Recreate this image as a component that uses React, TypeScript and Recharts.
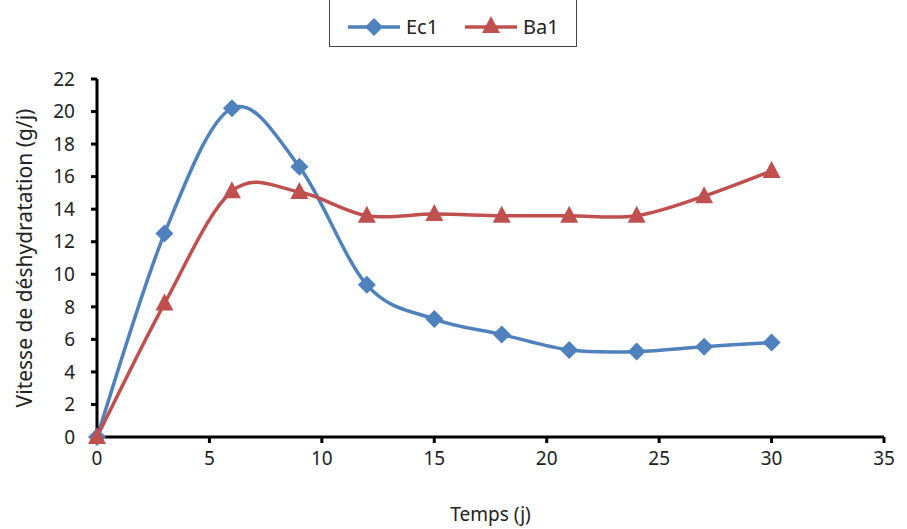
import React from 'react';
import { LineChart, Line, XAxis, YAxis, Legend } from 'recharts';

const days = [0, 3, 6, 9, 12, 15, 18, 21, 24, 27, 30];
const ec1 = [0, 12.5, 20.2, 16.6, 9.35, 7.25, 6.3, 5.35, 5.25, 5.55, 5.8];
const ba1 = [0, 8.2, 15.1, 15.05, 13.6, 13.7, 13.6, 13.6, 13.6, 14.8, 16.35];
const xTicks = [0, 5, 10, 15, 20, 25, 30, 35];
const yTicks = [0, 2, 4, 6, 8, 10, 12, 14, 16, 18, 20, 22];
const seriesNames = ['Ec1', 'Ba1'];

const data = days.map((d, i) => ({ t: d, Ec1: ec1[i], Ba1: ba1[i] }));

const BLUE = '#4F81BD';
const RED = '#C0504D';
const FONT = '"Noto Sans", "Open Sans", sans-serif';

function excelSmooth(context: any) {
  let pts: number[][] = [];
  return {
    areaStart() {},
    areaEnd() {},
    lineStart() {
      pts = [];
    },
    point(x: number, y: number) {
      pts.push([+x, +y]);
    },
    lineEnd() {
      const n = pts.length;
      if (!n) return;
      context.moveTo(pts[0][0], pts[0][1]);
      for (let i = 0; i < n - 1; i++) {
        const p0 = pts[Math.max(0, i - 1)];
        const p1 = pts[i];
        const p2 = pts[i + 1];
        const p3 = pts[Math.min(n - 1, i + 2)];
        context.bezierCurveTo(
          p1[0] + (p2[0] - p0[0]) / 6,
          p1[1] + (p2[1] - p0[1]) / 6,
          p2[0] - (p3[0] - p1[0]) / 6,
          p2[1] - (p3[1] - p1[1]) / 6,
          p2[0],
          p2[1]
        );
      }
    },
  };
}

const Diamond = (props: any) => {
  const { cx, cy } = props;
  if (cx == null || cy == null) return null;
  const r = 9;
  return <path d={`M${cx},${cy - r}L${cx + r},${cy}L${cx},${cy + r}L${cx - r},${cy}Z`} fill={BLUE} />;
};

const Triangle = (props: any) => {
  const { cx, cy } = props;
  if (cx == null || cy == null) return null;
  return <path d={`M${cx},${cy - 10}L${cx + 9},${cy + 7}L${cx - 9},${cy + 7}Z`} fill={RED} />;
};

const LegendContent = (props: any) => {
  const payload = props.payload || [];
  const ordered = seriesNames
    .map((n) => payload.find((p: any) => p.value === n))
    .filter(Boolean);
  return (
    <div
      style={{
        width: 248,
        height: 66,
        borderLeft: '1.5px solid #444',
        borderRight: '1.5px solid #444',
        borderBottom: '1.5px solid #444',
        boxSizing: 'border-box',
        position: 'relative',
      }}
    >
      <svg width={248} height={66} style={{ position: 'absolute', left: 0, top: 0 }}>
        {ordered.map((p: any, i: number) => {
          const x0 = i === 0 ? 18 : 135;
          const cy = 46;
          const color = p.color;
          return (
            <g key={p.value}>
              <line x1={x0} x2={x0 + 52} y1={cy} y2={cy} stroke={color} strokeWidth={3.5} />
              {p.value === 'Ec1' ? (
                <Diamond cx={x0 + 26} cy={cy} />
              ) : (
                <Triangle cx={x0 + 26} cy={cy - 1} />
              )}
              <text x={x0 + 58} y={cy + 7} fontFamily={FONT} fontSize={20} fill="#222">
                {p.value}
              </text>
            </g>
          );
        })}
      </svg>
    </div>
  );
};

export default function App() {
  return (
    <div style={{ position: 'absolute', left: 0, top: 0, width: 907, height: 529, background: '#fff' }}>
      <LineChart
        width={907}
        height={529}
        data={data}
        margin={{ top: 13, right: 23, bottom: 52, left: 57 }}
      >
        <XAxis
          dataKey="t"
          type="number"
          domain={[0, 35]}
          ticks={xTicks}
          interval={0}
          height={40}
          axisLine={{ stroke: '#000', strokeWidth: 3 }}
          tickLine={{ stroke: '#000', strokeWidth: 3 }}
          tickSize={6}
          tick={{ fill: '#222', fontSize: 19, fontFamily: FONT }}
          tickMargin={9}
          label={{
            value: 'Temps (j)',
            position: 'insideBottom',
            offset: -44,
            fill: '#222',
            fontSize: 19,
            fontFamily: FONT,
          }}
        />
        <YAxis
          type="number"
          domain={[0, 22]}
          ticks={yTicks}
          interval={0}
          width={40}
          axisLine={{ stroke: '#000', strokeWidth: 3 }}
          tickLine={{ stroke: '#000', strokeWidth: 3 }}
          tickSize={6}
          tick={{ fill: '#222', fontSize: 19, fontFamily: FONT }}
          tickMargin={16}
          label={{
            value: 'Vitesse de déshydratation (g/j)',
            angle: -90,
            position: 'center',
            dx: -52,
            dy: 0,
            fill: '#222',
            fontSize: 21,
            fontFamily: FONT,
          }}
        />
        <Legend
          verticalAlign="top"
          content={<LegendContent />}
          wrapperStyle={{ position: 'absolute', top: -19, left: 329, width: 248, height: 66 }}
        />
        <Line
          dataKey="Ec1"
          type={excelSmooth as any}
          stroke={BLUE}
          strokeWidth={3.5}
          dot={<Diamond />}
          activeDot={false}
          isAnimationActive={false}
          legendType="diamond"
        />
        <Line
          dataKey="Ba1"
          type={excelSmooth as any}
          stroke={RED}
          strokeWidth={3.5}
          dot={<Triangle />}
          activeDot={false}
          isAnimationActive={false}
          legendType="triangle"
        />
      </LineChart>
    </div>
  );
}
